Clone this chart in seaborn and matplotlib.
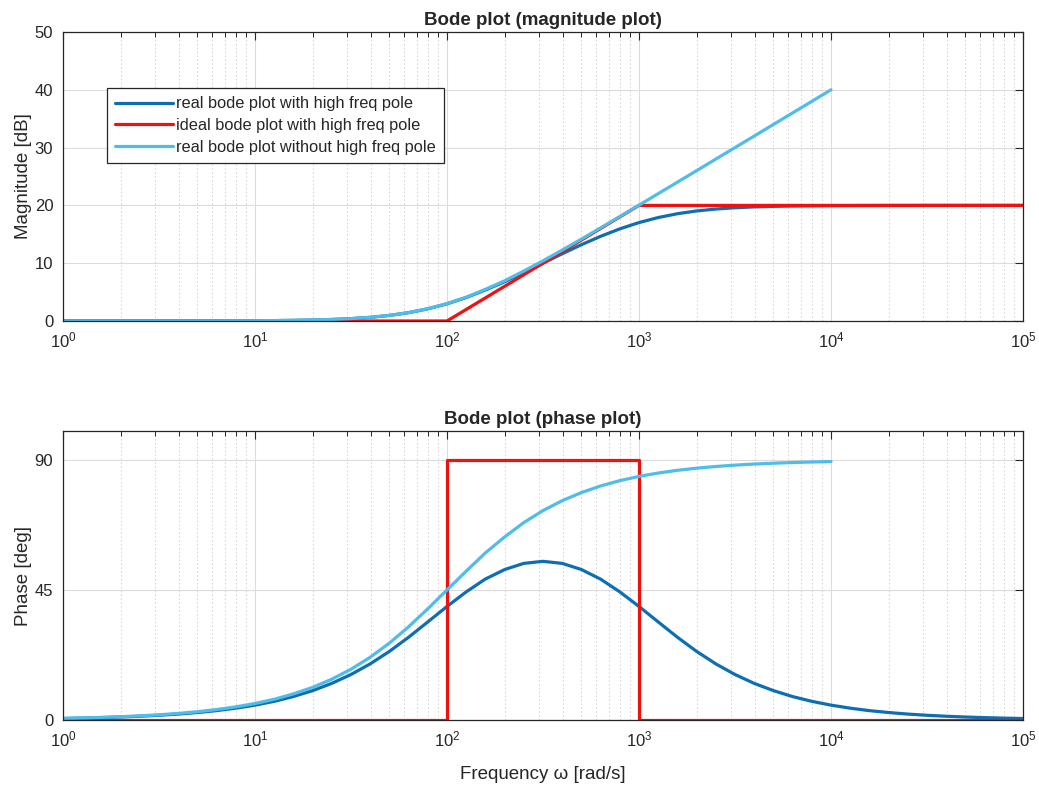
import matplotlib
matplotlib.use("Agg")
import matplotlib.pyplot as plt
import numpy as np
import seaborn as sns
from matplotlib.ticker import LogLocator, NullFormatter

freq = [1, 1.26, 1.58, 2, 2.51, 3.16, 3.98, 5.01, 6.31, 7.94,
        10, 12.6, 15.8, 20, 25.1, 31.6, 39.8, 50.1, 63.1, 79.4,
        100, 126, 158, 200, 251, 316, 398, 501, 631, 794,
        1000, 1259, 1585, 1995, 2512, 3162, 3981, 5012, 6310, 7943,
        1e4, 1.26e4, 1.58e4, 2e4, 2.51e4, 3.16e4, 3.98e4, 5.01e4, 6.31e4, 7.94e4, 1e5]
freq_nopole = freq[:41]  # light blue curves stop at 10^4

# magnitude [dB]
mag_real = [0, 0, 0, 0, 0, 0, 0.01, 0.01, 0.02, 0.03,
            0.04, 0.07, 0.11, 0.17, 0.26, 0.41, 0.63, 0.96, 1.44, 2.10,
            2.97, 4.06, 5.35, 6.80, 8.37, 10.00, 11.63, 13.20, 14.65, 15.94,
            17.03, 17.90, 18.56, 19.04, 19.37, 19.59, 19.74, 19.83, 19.89, 19.93,
            19.96, 19.97, 19.98, 19.99, 19.99, 20.0, 20.0, 20.0, 20.0, 20.0, 20.0]
mag_nopole = [0, 0, 0, 0, 0, 0, 0.01, 0.01, 0.02, 0.03,
              0.04, 0.07, 0.11, 0.17, 0.27, 0.41, 0.64, 0.97, 1.46, 2.13,
              3.01, 4.12, 5.46, 6.97, 8.64, 10.41, 12.27, 14.17, 16.11, 18.07,
              20.04, 22.03, 24.02, 26.01, 28.01, 30.0, 32.0, 34.0, 36.0, 38.0, 40.0]
ideal_mag_freq = [1, 100, 1000, 1e5]
ideal_mag = [0, 0, 20, 20]

# phase [deg]
phase_real = [0.51, 0.65, 0.82, 1.03, 1.30, 1.63, 2.05, 2.58, 3.25, 4.09,
              5.14, 6.46, 8.10, 10.17, 12.67, 15.74, 19.42, 23.74, 28.64, 33.93,
              39.29, 44.35, 48.74, 52.08, 54.19, 54.90, 54.19, 52.08, 48.74, 44.35,
              39.29, 33.93, 28.64, 23.74, 19.42, 15.74, 12.67, 10.17, 8.10, 6.46,
              5.14, 4.09, 3.25, 2.58, 2.05, 1.63, 1.30, 1.03, 0.82, 0.65, 0.51]
phase_nopole = [0.57, 0.72, 0.91, 1.14, 1.44, 1.81, 2.28, 2.87, 3.61, 4.54,
                5.71, 7.18, 9.01, 11.31, 14.11, 17.55, 21.70, 26.61, 32.25, 38.47,
                45.00, 51.53, 57.75, 63.39, 68.30, 72.45, 75.89, 78.69, 80.99, 82.82,
                84.29, 85.46, 86.39, 87.13, 87.72, 88.19, 88.56, 88.86, 89.09, 89.28, 89.43]
ideal_phase_freq = [1, 100, 100, 1000, 1000, 1e5]
ideal_phase = [0, 0, 90, 90, 0, 0]

labels = ["real bode plot with high freq pole",
          "ideal bode plot with high freq pole",
          "real bode plot without high freq pole"]
colors = ["#0E6EB2", "#F01010", "#4FBCEA"]

sns.set_style("white")
plt.rcParams["font.family"] = ["Liberation Sans", "DejaVu Sans"]
plt.rcParams["mathtext.default"] = "regular"

fig = plt.figure(figsize=(10.39, 7.87), dpi=100)
ax1 = fig.add_axes([63 / 1039, 1 - 321 / 787, 960 / 1039, 289 / 787])
ax2 = fig.add_axes([63 / 1039, 1 - 720 / 787, 960 / 1039, 289 / 787])

lw = 2.3
kw = dict(sort=False, estimator=None, linewidth=lw)

sns.lineplot(x=freq, y=mag_real, color=colors[0], ax=ax1, label=labels[0], **kw)
sns.lineplot(x=ideal_mag_freq, y=ideal_mag, color=colors[1], ax=ax1, label=labels[1], **kw)
sns.lineplot(x=freq_nopole, y=mag_nopole, color=colors[2], ax=ax1, label=labels[2], **kw)

sns.lineplot(x=freq, y=phase_real, color=colors[0], ax=ax2, **kw)
sns.lineplot(x=ideal_phase_freq, y=ideal_phase, color=colors[1], ax=ax2, **kw)
sns.lineplot(x=freq_nopole, y=phase_nopole, color=colors[2], ax=ax2, **kw)

edge = "#262626"
for ax in (ax1, ax2):
    ax.set_xscale("log")
    ax.set_xlim(1, 1e5)
    ax.xaxis.set_major_locator(LogLocator(base=10, numticks=10))
    ax.xaxis.set_minor_locator(LogLocator(base=10, subs=np.arange(2, 10), numticks=20))
    ax.xaxis.set_minor_formatter(NullFormatter())
    ax.grid(True, which="major", color="#dcdcdc", linewidth=0.8, linestyle="-")
    ax.grid(True, which="minor", axis="x", color="#d0d0d0", linewidth=0.7, linestyle=(0, (1.5, 2.5)))
    ax.set_axisbelow(True)
    for s in ax.spines.values():
        s.set_visible(True)
        s.set_color(edge)
        s.set_linewidth(0.9)
    ax.tick_params(which="both", direction="in", top=True, right=True, colors=edge,
                   labelsize=12, labelcolor=edge)
    ax.tick_params(which="major", length=6, width=0.8, pad=7)
    ax.tick_params(which="minor", length=3.5, width=0.7)
    ax.set_xlabel("")

ax1.set_ylim(0, 50)
ax1.set_yticks([0, 10, 20, 30, 40, 50])
ax1.set_ylabel("Magnitude [dB]", fontsize=13.5, color=edge)
ax1.yaxis.set_label_coords(-31 / 960, 0.5)
ax1.set_title("Bode plot (magnitude plot)", fontsize=13.5, fontweight="bold", pad=5)

ax2.set_ylim(0, 100)
ax2.set_yticks([0, 45, 90])
ax2.set_ylabel("Phase [deg]", fontsize=13.5, color=edge)
ax2.yaxis.set_label_coords(-31 / 960, 0.5)
ax2.set_xlabel("Frequency \u03c9 [rad/s]", fontsize=13.5, color=edge, labelpad=12)
ax2.set_title("Bode plot (phase plot)", fontsize=13.5, fontweight="bold", pad=5)

leg = ax1.legend(loc="upper left", bbox_to_anchor=(0.046, 0.806), fontsize=11.8,
                 frameon=True, fancybox=False, edgecolor=edge, framealpha=1,
                 handlelength=3.5, handletextpad=0.2, labelspacing=0.42,
                 borderpad=0.5, borderaxespad=0)
leg.get_frame().set_linewidth(0.9)

fig.savefig("out.png", dpi=100)
